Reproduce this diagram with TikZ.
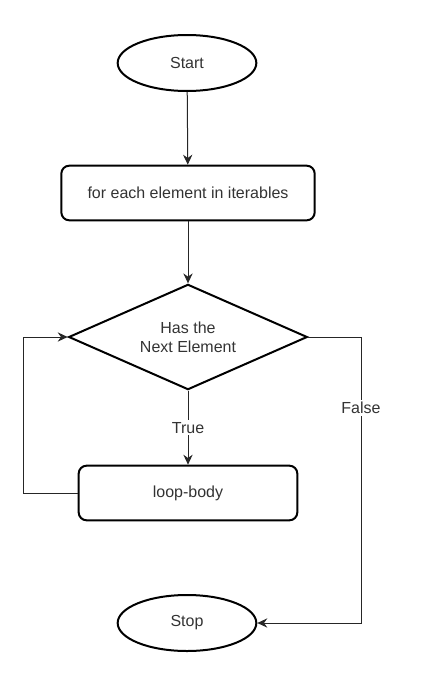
\documentclass[tikz,border=0pt]{standalone}
\usepackage{fontspec}
\setmainfont{Liberation Sans}
\usetikzlibrary{arrows.meta,calc,shapes}
\tikzset{>={Stealth[length=7.5pt,width=7pt,inset=2.5pt]}}
\tikzstyle{terminal}=[ellipse,draw=black,line width=1.5pt,minimum width=104pt,minimum height=42pt,text=black!80]
\tikzstyle{process}=[rectangle,draw=black,line width=1.5pt,rounded corners=6pt,minimum height=41pt,text=black!80]
\tikzstyle{decision}=[diamond,aspect=2.27,draw=black,line width=1.5pt,minimum width=179pt,minimum height=79pt,inner sep=0pt,align=center,text=black!80]
\tikzstyle{flow}=[->,line width=0.75pt,draw=black!85]
\tikzstyle{flowlabel}=[fill=white,inner sep=1.5pt,text=black!80]

\begin{document}
\begin{tikzpicture}[x=0.75pt,y=-0.75pt,font=\fontsize{12}{14}\selectfont]
	\useasboundingbox (0,0) rectangle (444,689);

	\node[terminal] (start) at (187,63) {Start};
	\node[process, minimum width=190pt] (foreach) at (188,193) {for each element in iterables};
	\node[decision] (cond) at (188,337) {Has the\\Next Element};
	\node[process, minimum width=164pt] (body) at (188,493) {loop-body};
	\node[terminal] (stop) at (187,623) {Stop};
	\coordinate (loopL) at (23,493);
	\coordinate (falseR) at (361,337);

	\draw[flow] (start) -- (foreach);
	\draw[flow] (foreach) -- (cond);
	\draw[flow] (cond.south) -- node[flowlabel] {True} (body.north);
	\draw[flow] (body.west) -- (loopL) |- (cond.west);
	\draw[flow] (cond.east) -- (falseR) |- node[flowlabel, pos=0.124] {False} (stop.east);
\end{tikzpicture}
\end{document}
